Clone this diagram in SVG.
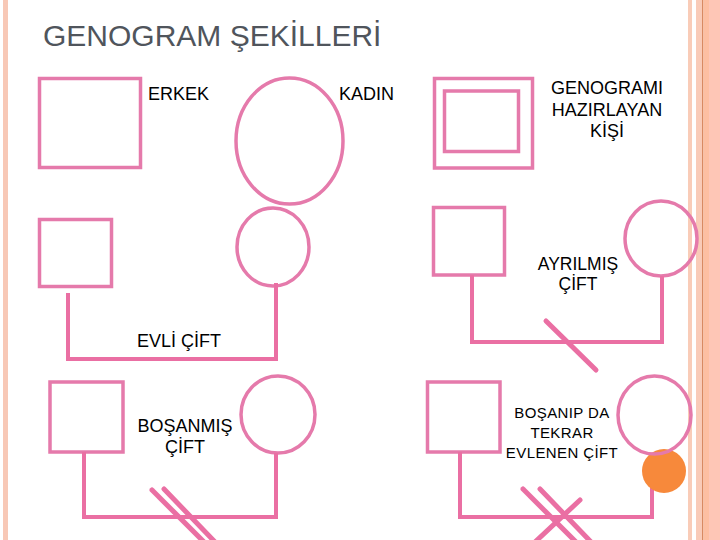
<svg xmlns="http://www.w3.org/2000/svg" width="720" height="540" viewBox="0 0 720 540">
<defs>
<style>
.sym{fill:none;stroke:#E57AAB;stroke-width:3.5}
.con{fill:none;stroke:#EA6FA3;stroke-width:4;stroke-linecap:butt}
.cut{fill:none;stroke:#EA6FA3;stroke-width:5;stroke-linecap:round}
.lbl{font-family:"Liberation Sans",Arial,sans-serif;font-size:18px;fill:#000}
.thin{font-family:"Liberation Sans",Arial,sans-serif;font-size:15px;fill:#000;letter-spacing:0.4px}
.title{font-family:"Liberation Sans",Arial,sans-serif;font-size:30px;fill:#50555C}
</style>
</defs>
<rect width="720" height="540" fill="#fff"/>
<g id="frame">
<rect x="3" y="0" width="5" height="540" fill="#F8C8B6"/>
<rect x="688" y="0" width="4" height="540" fill="#F9CCB8"/>
<rect x="696" y="0" width="6" height="540" fill="#F9CBB8"/>
<rect x="702" y="0" width="1.5" height="540" fill="#D98A62"/>
<rect x="703.5" y="0" width="5.5" height="540" fill="#FDBFA2"/>
<rect x="709" y="0" width="11" height="540" fill="#FEC6B6"/>
</g>
<text class="title" x="43" y="46">GENOGRAM ŞEKİLLERİ</text>

<g id="erkek">
<rect class="sym" x="39.5" y="78.5" width="101" height="89"/>
<text class="lbl" x="148" y="100">ERKEK</text>
</g>
<g id="kadin">
<ellipse class="sym" cx="289.5" cy="141" rx="53.5" ry="63"/>
<text class="lbl" x="339" y="100">KADIN</text>
</g>
<g id="hazirlayan">
<rect class="sym" x="434.5" y="78.5" width="98" height="89.5"/>
<rect class="sym" x="444.5" y="91" width="74" height="60.5"/>
<text class="lbl" text-anchor="middle"><tspan x="607" y="94">GENOGRAMI</tspan><tspan x="607" y="115.5">HAZIRLAYAN</tspan><tspan x="607" y="137">KİŞİ</tspan></text>
</g>

<g id="evli-erkek"><rect class="sym" x="39.5" y="219.5" width="72" height="67"/></g>
<g id="evli-kadin"><ellipse class="sym" cx="273" cy="247" rx="36" ry="39"/></g>
<g id="ayrilmis-erkek"><rect class="sym" x="433.5" y="207.5" width="71" height="67.5"/></g>
<g id="ayrilmis-kadin"><ellipse class="sym" cx="661" cy="238.5" rx="36" ry="37.5"/></g>
<g id="bosanmis-erkek"><rect class="sym" x="50" y="382" width="73" height="70"/></g>
<g id="bosanmis-kadin"><ellipse class="sym" cx="278" cy="414.5" rx="37" ry="38.5"/></g>
<g id="tekrar-erkek"><rect class="sym" x="427.5" y="382" width="72.5" height="70"/></g>

<g id="connectors">
<polyline class="con" points="68,293 68,359 276,359 276,283"/>
<polyline class="con" points="472,275 472,342 662,342 662,276"/>
<line class="cut" x1="546" y1="321" x2="596" y2="370"/>
<polyline class="con" points="84,452 84,517 276,517 276,453"/>
<line class="cut" x1="152" y1="490" x2="204" y2="542"/>
<line class="cut" x1="164" y1="489" x2="215" y2="542"/>
<polyline class="con" points="460,452 460,517 652,517 652,454"/>
<line class="cut" x1="523" y1="489" x2="577" y2="543"/>
<line class="cut" x1="540" y1="489" x2="592" y2="543"/>
<line class="cut" x1="580" y1="500" x2="534" y2="543"/>
</g>

<g id="tekrar-kadin">
<circle cx="664" cy="471" r="22" fill="#F7893B"/>
<ellipse class="sym" cx="654.5" cy="415" rx="36.5" ry="39"/>
</g>

<text class="lbl" x="137" y="347">EVLİ ÇİFT</text>
<text class="lbl" font-size="17" text-anchor="middle" style="font-size:17.5px"><tspan x="578" y="270">AYRILMIŞ</tspan><tspan x="578" y="290">ÇİFT</tspan></text>
<text class="lbl" text-anchor="middle"><tspan x="185" y="432">BOŞANMIŞ</tspan><tspan x="185" y="453">ÇİFT</tspan></text>
<text class="thin" text-anchor="middle"><tspan x="562" y="418">BOŞANIP DA</tspan><tspan x="562" y="438">TEKRAR</tspan><tspan x="562" y="458">EVLENEN ÇİFT</tspan></text>
</svg>
